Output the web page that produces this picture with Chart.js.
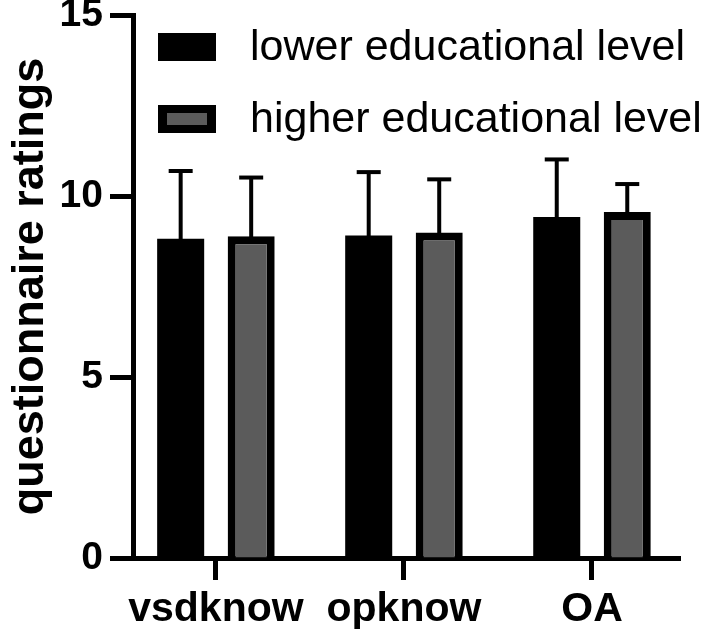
<!DOCTYPE html>
<html><head><meta charset="utf-8">
<script src="https://cdn.jsdelivr.net/npm/chart.js@4.4.1/dist/chart.umd.min.js"></script>
<style>html,body{margin:0;padding:0;background:#fff;} #wrap{width:708px;height:634px;}</style>
</head><body><div id="wrap"><canvas id="c" width="708" height="634"></canvas></div>
<script>
const categories = ['vsdknow', 'opknow', 'OA'];
const seriesNames = ['lower educational level', 'higher educational level'];
const lowerMeans = [8.82, 8.91, 9.42];
const lowerSD = [1.87, 1.75, 1.59];
const higherMeans = [8.89, 8.99, 9.56];
const higherSD = [1.62, 1.47, 0.77];
const yTicks = [0, 5, 10, 15];

const FONT = '"Liberation Sans", Arial, Helvetica, sans-serif';
const GRAY = '#5b5b5b';

const errorBars = {
  id: 'errorBars',
  afterDatasetsDraw(chart) {
    const ctx = chart.ctx, ys = chart.scales.y;
    chart.data.datasets.forEach((ds, di) => {
      const meta = chart.getDatasetMeta(di);
      meta.data.forEach((bar, i) => {
        const top = ys.getPixelForValue(ds.data[i].y + ds.errors[i]);
        ctx.save();
        ctx.strokeStyle = '#000'; ctx.lineWidth = 4; ctx.lineCap = 'butt';
        ctx.beginPath(); ctx.moveTo(bar.x, bar.y + 2); ctx.lineTo(bar.x, top); ctx.stroke();
        ctx.beginPath(); ctx.moveTo(bar.x - 12, top); ctx.lineTo(bar.x + 12, top); ctx.stroke();
        ctx.restore();
      });
    });
  }
};

const customLegend = {
  id: 'customLegend',
  afterDraw(chart) {
    const ctx = chart.ctx;
    const rows = [{boxY: 33, base: 60}, {boxY: 105, base: 131.5}];
    chart.data.datasets.forEach((ds, i) => {
      const r = rows[i];
      ctx.save();
      ctx.fillStyle = '#000';
      ctx.fillRect(158, r.boxY, 58, 28);
      if (ds.backgroundColor !== '#000') {
        ctx.fillStyle = ds.backgroundColor;
        ctx.fillRect(167, r.boxY + 8, 40, 12);
      }
      ctx.fillStyle = '#000';
      ctx.font = '43px ' + FONT;
      ctx.textAlign = 'left'; ctx.textBaseline = 'alphabetic';
      ctx.fillText(ds.label, 250, r.base);
      ctx.restore();
    });
  }
};

new Chart(document.getElementById('c'), {
  type: 'bar',
  data: {
    datasets: [
      { label: seriesNames[0], data: categories.map((c, i) => ({x: i + 1, y: lowerMeans[i]})), errors: lowerSD,
        backgroundColor: '#000', borderColor: '#000', borderWidth: 0 },
      { label: seriesNames[1], data: categories.map((c, i) => ({x: i + 1, y: higherMeans[i]})), errors: higherSD,
        backgroundColor: GRAY, borderColor: '#000', borderWidth: 8 }
    ]
  },
  plugins: [errorBars, customLegend],
  options: {
    responsive: false,
    animation: false,
    devicePixelRatio: 1,
    layout: { padding: { left: 0, top: 15, right: 28, bottom: 0 } },
    datasets: { bar: { categoryPercentage: 0.75, barPercentage: 0.667 } },
    plugins: { legend: { display: false }, tooltip: { enabled: false } },
    scales: {
      x: {
        type: 'linear', min: 0.559, max: 3.468, offset: false,
        afterBuildTicks: (s) => { s.ticks = categories.map((c, i) => ({value: i + 1})); },
        afterFit: (s) => { s.height = 76; s.paddingLeft = 0; s.paddingRight = 0; },
        ticks: { callback: (v) => categories[v - 1] || '', color: '#000', padding: 9,
          font: { family: FONT, size: 41, weight: 'bold', lineHeight: 1 }, maxRotation: 0, autoSkip: false },
        grid: { display: true, offset: false, drawOnChartArea: false, drawTicks: true, tickLength: 22, tickWidth: 5, tickColor: '#000' },
        border: { display: true, color: '#000', width: 5 }
      },
      y: {
        min: 0, max: 15,
        afterBuildTicks: (s) => { s.ticks = yTicks.map(v => ({value: v})); },
        afterFit: (s) => { s.width = 133; s.paddingTop = 0; s.paddingBottom = 0; },
        ticks: { color: '#000', padding: 7, font: { family: FONT, size: 39, weight: 'bold', lineHeight: 1 } },
        grid: { display: true, offset: false, drawOnChartArea: false, drawTicks: true, tickLength: 23, tickWidth: 5, tickColor: '#000' },
        border: { display: true, color: '#000', width: 5 },
        title: { display: true, text: 'questionnaire ratings', color: '#000', padding: { top: 8, bottom: 0 },
          font: { family: FONT, size: 45, weight: 'bold', lineHeight: 1 } }
      }
    }
  }
});
</script></body></html>
